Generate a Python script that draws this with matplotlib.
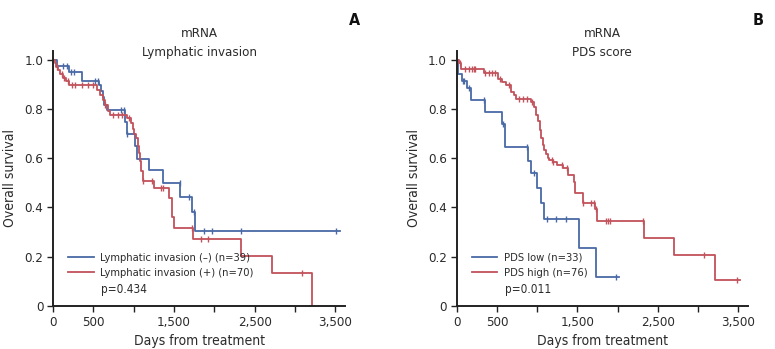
import numpy as np
import matplotlib
matplotlib.use("Agg")
import matplotlib.pyplot as plt

plt.rcParams['font.family'] = ['DejaVu Sans']
plt.rcParams['font.stretch'] = 'condensed'

BLUE = '#4a6aa6'
RED = '#c2525c'
TXT = '#2b2b2b'

# Panel A: lymphatic invasion (step times in days, survival after the step)
a_neg_t = [0, 54, 195, 364, 575, 591, 616, 637, 674, 893, 914, 1017, 1035, 1195, 1369, 1576, 1720, 1762]
a_neg_s = [1.0, 0.974, 0.948, 0.915, 0.898, 0.874, 0.847, 0.817, 0.797, 0.745, 0.698, 0.65, 0.598, 0.55, 0.499, 0.444, 0.383, 0.306]
a_neg_end = 3557
a_neg_cens = [128, 178, 223, 261, 521, 562, 840, 881, 922, 1570, 1691, 1753, 1877, 1977, 2329, 3511]

a_pos_t = [0, 20, 37, 60, 90, 128, 165, 200, 542, 583, 616, 640, 687, 707, 922, 968, 990, 1010, 1030,
           1050, 1065, 1080, 1095, 1112, 1253, 1443, 1472, 1501, 1733, 2329, 2713, 3209]
a_pos_s = [1.0, 0.986, 0.971, 0.957, 0.942, 0.926, 0.912, 0.898, 0.878, 0.858, 0.837, 0.815, 0.79, 0.776,
           0.763, 0.743, 0.72, 0.70, 0.68, 0.65, 0.62, 0.59, 0.546, 0.509, 0.478, 0.438, 0.36, 0.318,
           0.272, 0.203, 0.135, 0.0]
a_pos_end = 3209
a_pos_cens = [50, 110, 140, 180, 232, 273, 356, 438, 500, 650, 748, 810, 852, 947, 1121, 1225, 1340,
              1361, 1720, 1836, 1919, 3085]

# Panel B: PDS score
b_low_t = [0, 10, 66, 128, 178, 356, 563, 600, 890, 925, 1000, 1043, 1085, 1519, 1727]
b_low_s = [1.0, 0.94, 0.912, 0.885, 0.837, 0.787, 0.739, 0.645, 0.59, 0.54, 0.478, 0.419, 0.355, 0.236, 0.118]
b_low_end = 2012
b_low_cens = [75, 95, 150, 335, 570, 870, 960, 1118, 1230, 1354, 1979]

b_high_t = [0, 25, 57, 335, 513, 563, 612, 675, 708, 737, 923, 956, 985, 1010, 1031, 1051, 1070, 1090,
            1110, 1130, 1150, 1193, 1242, 1325, 1387, 1458, 1470, 1565, 1718, 1747, 2327, 2703, 3209]
b_high_s = [1.0, 0.987, 0.961, 0.947, 0.921, 0.908, 0.895, 0.868, 0.855, 0.842, 0.826, 0.806, 0.776,
            0.749, 0.715, 0.68, 0.655, 0.635, 0.615, 0.60, 0.593, 0.586, 0.573, 0.559, 0.532, 0.505,
            0.458, 0.419, 0.393, 0.347, 0.275, 0.207, 0.107]
b_high_end = 3519
b_high_cens = [40, 107, 149, 190, 211, 232, 356, 398, 439, 480, 540, 650, 779, 820, 870, 930, 1180,
               1200, 1304, 1366, 1573, 1665, 1706, 1731, 1851, 1876, 1905, 2318, 3076, 3478]

x_ticks = [0, 500, 1000, 1500, 2000, 2500, 3000, 3500]
x_tick_labels = ['0', '500', '', '1,500', '', '2,500', '', '3,500']
y_ticks = [0, 0.2, 0.4, 0.6, 0.8, 1.0]
y_tick_labels = ['0', '0.2', '0.4', '0.6', '0.8', '1.0']


def km(ax, t, s, end, cens, color, label):
    xs = list(t) + [end]
    ys = list(s) + [s[-1]]
    ax.step(xs, ys, where='post', color=color, lw=1.3, label=label)
    idx = np.searchsorted(t, cens, side='right') - 1
    cy = np.array(s)[idx]
    ax.plot(cens, cy, ls='none', marker='|', ms=5, mew=1.0, color=color)


def style(ax, sub, letter, pval):
    ax.set_xlim(0, 3620)
    ax.set_ylim(0, 1.035)
    for sp in ['top', 'right']:
        ax.spines[sp].set_visible(False)
    for sp in ['left', 'bottom']:
        ax.spines[sp].set_linewidth(1.4)
        ax.spines[sp].set_color('#222222')
    ax.set_xticks(x_ticks)
    ax.set_xticklabels(x_tick_labels)
    ax.set_yticks(y_ticks)
    ax.set_yticklabels(y_tick_labels)
    ax.tick_params(direction='out', length=4, width=1.0, labelsize=9.5, colors='#222222',
                   labelcolor=TXT, pad=3)
    ax.set_xlabel('Days from treatment', fontsize=10, color=TXT, labelpad=4)
    ax.set_ylabel('Overall survival', fontsize=10, color=TXT, labelpad=5)
    ax.text(0.5, 1.067, 'mRNA', transform=ax.transAxes, ha='center', va='center', fontsize=9.5, color=TXT)
    ax.text(0.5, 0.996, sub, transform=ax.transAxes, ha='center', va='center', fontsize=9.5, color=TXT)
    ax.text(1.033, 1.12, letter, transform=ax.transAxes, ha='center', va='center', fontsize=11.5,
            fontweight='bold', color='#111111')
    ax.legend(loc='lower left', bbox_to_anchor=(0.052, 0.11), frameon=False, fontsize=8,
              handlelength=2.3, handletextpad=0.6, labelspacing=0.45, borderpad=0, borderaxespad=0,
              labelcolor=TXT)
    ax.text(0.165, 0.063, pval, transform=ax.transAxes, ha='left', va='center', fontsize=8.5, color=TXT)


fig = plt.figure(figsize=(7.75, 3.49), dpi=100)
ax_a = fig.add_axes([0.0684, 0.1232, 0.3768, 0.7307])
ax_b = fig.add_axes([0.5893, 0.1232, 0.3759, 0.7307])

km(ax_a, a_neg_t, a_neg_s, a_neg_end, a_neg_cens, BLUE, 'Lymphatic invasion (\u2013) (n=39)')
km(ax_a, a_pos_t, a_pos_s, a_pos_end, a_pos_cens, RED, 'Lymphatic invasion (+) (n=70)')
style(ax_a, 'Lymphatic invasion', 'A', 'p=0.434')

km(ax_b, b_low_t, b_low_s, b_low_end, b_low_cens, BLUE, 'PDS low (n=33)')
km(ax_b, b_high_t, b_high_s, b_high_end, b_high_cens, RED, 'PDS high (n=76)')
style(ax_b, 'PDS score', 'B', 'p=0.011')

fig.savefig('out.png', dpi=100)
